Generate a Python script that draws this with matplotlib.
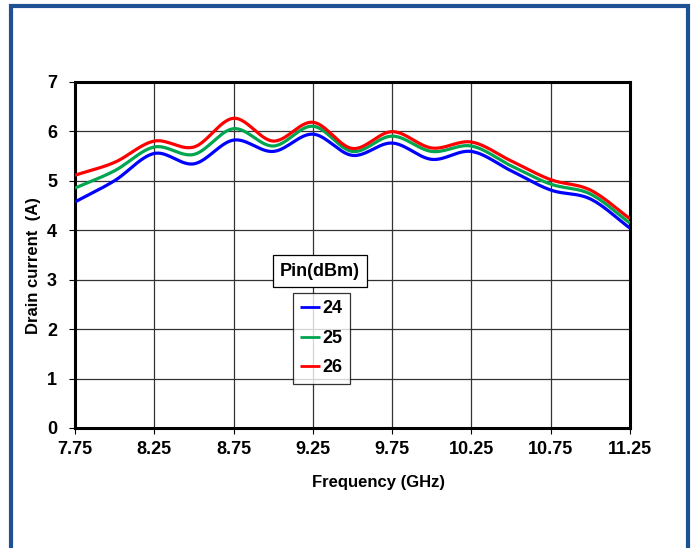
import numpy as np
import matplotlib
matplotlib.use("Agg")
import matplotlib.pyplot as plt
from matplotlib.patches import Rectangle

plt.rcParams['font.family'] = ['Liberation Sans', 'DejaVu Sans']
plt.rcParams['font.weight'] = 'bold'

# Measured drain current vs frequency for three input power levels
freq_ghz = [7.75, 8.0, 8.25, 8.5, 8.75, 9.0, 9.25, 9.5, 9.75, 10.0, 10.25, 10.5, 10.75, 11.0, 11.25]
current_24 = [4.57, 5.00, 5.55, 5.34, 5.82, 5.59, 5.94, 5.51, 5.76, 5.43, 5.59, 5.20, 4.81, 4.63, 4.04]
current_25 = [4.85, 5.20, 5.68, 5.53, 6.05, 5.70, 6.10, 5.59, 5.90, 5.59, 5.70, 5.30, 4.93, 4.73, 4.14]
current_26 = [5.11, 5.37, 5.80, 5.68, 6.26, 5.80, 6.18, 5.65, 5.99, 5.66, 5.78, 5.40, 5.02, 4.81, 4.23]
pin_labels = ['24', '25', '26']
colors = ['#0000FF', '#00A550', '#FF0000']
x_ticks = [7.75, 8.25, 8.75, 9.25, 9.75, 10.25, 10.75, 11.25]
y_ticks = [0, 1, 2, 3, 4, 5, 6, 7]


def smooth(x, y, n=30):
    """Catmull-Rom spline through the points (spreadsheet-style smoothed line)."""
    x = np.asarray(x, float)
    y = np.asarray(y, float)
    px = np.concatenate([[2 * x[0] - x[1]], x, [2 * x[-1] - x[-2]]])
    py = np.concatenate([[2 * y[0] - y[1]], y, [2 * y[-1] - y[-2]]])
    t = np.linspace(0, 1, n, endpoint=False)
    xs, ys = [], []
    for i in range(1, len(px) - 2):
        for p, out in ((px, xs), (py, ys)):
            p0, p1, p2, p3 = p[i - 1], p[i], p[i + 1], p[i + 2]
            out.append(0.5 * (2 * p1 + (-p0 + p2) * t
                              + (2 * p0 - 5 * p1 + 4 * p2 - p3) * t ** 2
                              + (-p0 + 3 * p1 - 3 * p2 + p3) * t ** 3))
    xs.append([x[-1]])
    ys.append([y[-1]])
    return np.concatenate(xs), np.concatenate(ys)


fig = plt.figure(figsize=(6.93, 5.48), dpi=100)
fig.patch.set_facecolor('white')

# blue frame around the whole figure (open at the bottom edge)
fig.patches.append(Rectangle((11 / 693, -0.05), 677 / 693, 1 - 6 / 548 + 0.05,
                             transform=fig.transFigure, fill=False,
                             edgecolor='#1F5094', linewidth=3, zorder=0))

ax = fig.add_axes([75 / 693, 1 - 428 / 548, 555 / 693, (428 - 81.7) / 548])

for vals, lab, col in zip([current_24, current_25, current_26], pin_labels, colors):
    sx, sy = smooth(freq_ghz, vals)
    ax.plot(sx, sy, color=col, linewidth=2.3, label=lab, solid_capstyle='butt', zorder=3)

ax.set_xlim(7.75, 11.25)
ax.set_ylim(0, 7)
ax.set_xticks(x_ticks)
ax.set_xticklabels([f'{v:.2f}' for v in x_ticks])
ax.set_yticks(y_ticks)
ax.grid(True, color='#333333', linewidth=0.9, zorder=1)
for s in ax.spines.values():
    s.set_linewidth(2.2)
    s.set_color('black')
ax.tick_params(axis='both', direction='out', length=4, width=0.8, labelsize=13)
ax.tick_params(axis='x', pad=5)
ax.tick_params(axis='y', pad=9)
for lbl in ax.get_xticklabels() + ax.get_yticklabels():
    lbl.set_fontweight('bold')

fig.text(378 / 693, 1 - 483 / 548, 'Frequency (GHz)', ha='center', va='center',
         fontsize=12, fontweight='bold')
fig.text(34 / 693, 1 - 266 / 548, 'Drain current  (A)', ha='center', va='center',
         rotation=90, fontsize=12, fontweight='bold')

# legend title box and legend
fig.text(320 / 693, 1 - 271 / 548, 'Pin(dBm)', ha='center', va='center',
         fontsize=13, fontweight='bold',
         bbox=dict(boxstyle='square,pad=0.4', facecolor='white', edgecolor='black', linewidth=0.9))
leg = ax.legend(loc='upper left', bbox_to_anchor=(293 / 693, 1 - 293 / 548),
                bbox_transform=fig.transFigure, frameon=True, fancybox=False,
                handlelength=1.1, handletextpad=0.15, labelspacing=0.7,
                borderpad=0.4, borderaxespad=0, prop={'size': 13, 'weight': 'bold'})
leg.get_frame().set_edgecolor('black')
leg.get_frame().set_linewidth(0.9)
for h in leg.get_lines():
    h.set_linewidth(2)

fig.savefig('out.png', dpi=100, facecolor='white')
